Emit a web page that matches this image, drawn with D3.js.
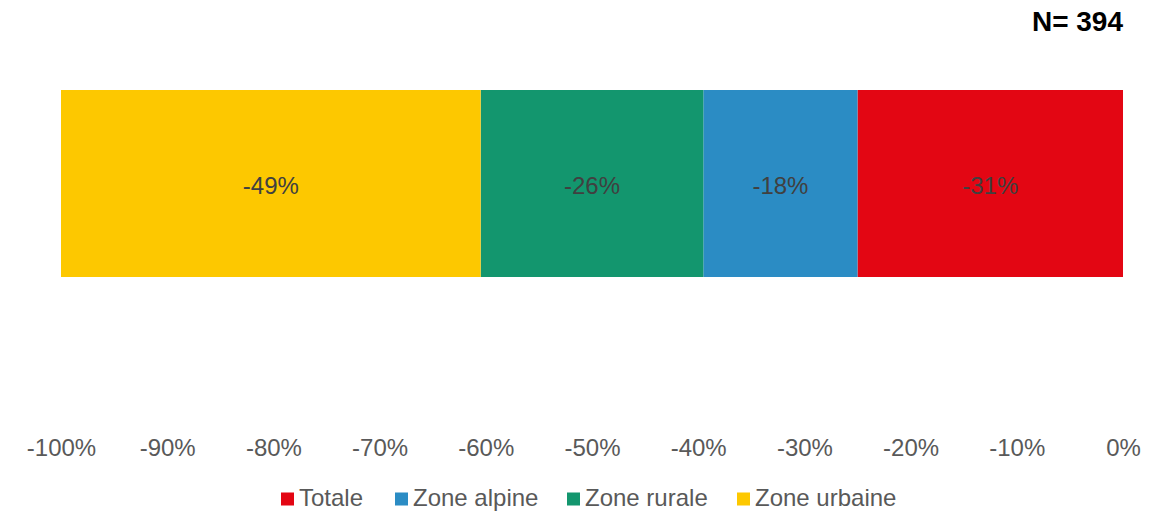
<!DOCTYPE html>
<html>
<head>
<meta charset="utf-8">
<script src="https://cdn.jsdelivr.net/npm/d3@7"></script>
<style>
  body { margin: 0; background: #fff; }
  text { font-family: "Liberation Sans", Arial, sans-serif; }
</style>
</head>
<body>
<div id="chart"></div>
<script>
// data
var series = ["Totale", "Zone alpine", "Zone rurale", "Zone urbaine"];
var values = [-31, -18, -26, -49];
var colors = ["#e30613", "#2b8cc4", "#13966e", "#fdc800"];
var ticks = [-1, -0.9, -0.8, -0.7, -0.6, -0.5, -0.4, -0.3, -0.2, -0.1, 0];
var sampleSize = 394;

var width = 1158, height = 511;
var margin = { top: 90, left: 61, right: 35, bottom: 234 };

var svg = d3.select("#chart").append("svg")
            .attr("width", width)
            .attr("height", height);

var x = d3.scaleLinear()
          .domain([-1, 0])
          .range([margin.left, width - margin.right]);

var y = d3.scaleBand()
          .domain(["bar"])
          .range([margin.top, height - margin.bottom])
          .padding(0);

// 100% stacked: each segment is its share of the total
var total = d3.sum(values);
var acc = 0;
var segs = values.map(function(v, i) {
  var share = v / total;
  var s = { name: series[i], value: v, x0: -acc, x1: -(acc + share), color: colors[i] };
  acc += share;
  return s;
});

svg.append("g")
  .selectAll("rect")
  .data(segs)
  .enter().append("rect")
    .attr("x", d => x(d.x1))
    .attr("y", y("bar"))
    .attr("width", d => x(d.x0) - x(d.x1))
    .attr("height", y.bandwidth())
    .attr("fill", d => d.color);

svg.append("g")
  .selectAll("text")
  .data(segs)
  .enter().append("text")
    .attr("x", d => (x(d.x0) + x(d.x1)) / 2)
    .attr("y", y("bar") + y.bandwidth() / 2 + 2)
    .attr("dy", "0.35em")
    .attr("text-anchor", "middle")
    .attr("font-size", 24)
    .attr("fill", "#404040")
    .text(d => d.value + "%");

// x axis (labels only)
var axis = d3.axisBottom(x)
             .tickValues(ticks)
             .tickFormat(d3.format(".0%"))
             .tickSize(0)
             .tickPadding(0);

var ax = svg.append("g")
            .attr("transform", "translate(0,448)")
            .call(axis);
ax.select(".domain").remove();
ax.selectAll("text")
  .attr("dy", "0.35em")
  .attr("font-size", 24)
  .attr("font-family", "Liberation Sans, Arial, sans-serif")
  .attr("fill", "#595959")
  .text(d => d === 0 ? "0%" : Math.round(d * 100) + "%");

// N label
svg.append("text")
   .attr("x", 1123)
   .attr("y", 21)
   .attr("dy", "0.35em")
   .attr("text-anchor", "end")
   .attr("font-size", 28)
   .attr("font-weight", "bold")
   .attr("fill", "#000")
   .text("N= " + sampleSize);

// legend
var legendX = [281, 395, 567, 737];
var legend = svg.append("g")
  .selectAll("g")
  .data(series)
  .enter().append("g")
    .attr("transform", (d, i) => "translate(" + legendX[i] + ",498)");

legend.append("rect")
  .attr("x", 0)
  .attr("y", -5.5)
  .attr("width", 13)
  .attr("height", 13)
  .attr("fill", (d, i) => colors[i]);

legend.append("text")
  .attr("x", 18)
  .attr("dy", "0.35em")
  .attr("font-size", 24)
  .attr("fill", "#595959")
  .text(d => d);
</script>
</body>
</html>
